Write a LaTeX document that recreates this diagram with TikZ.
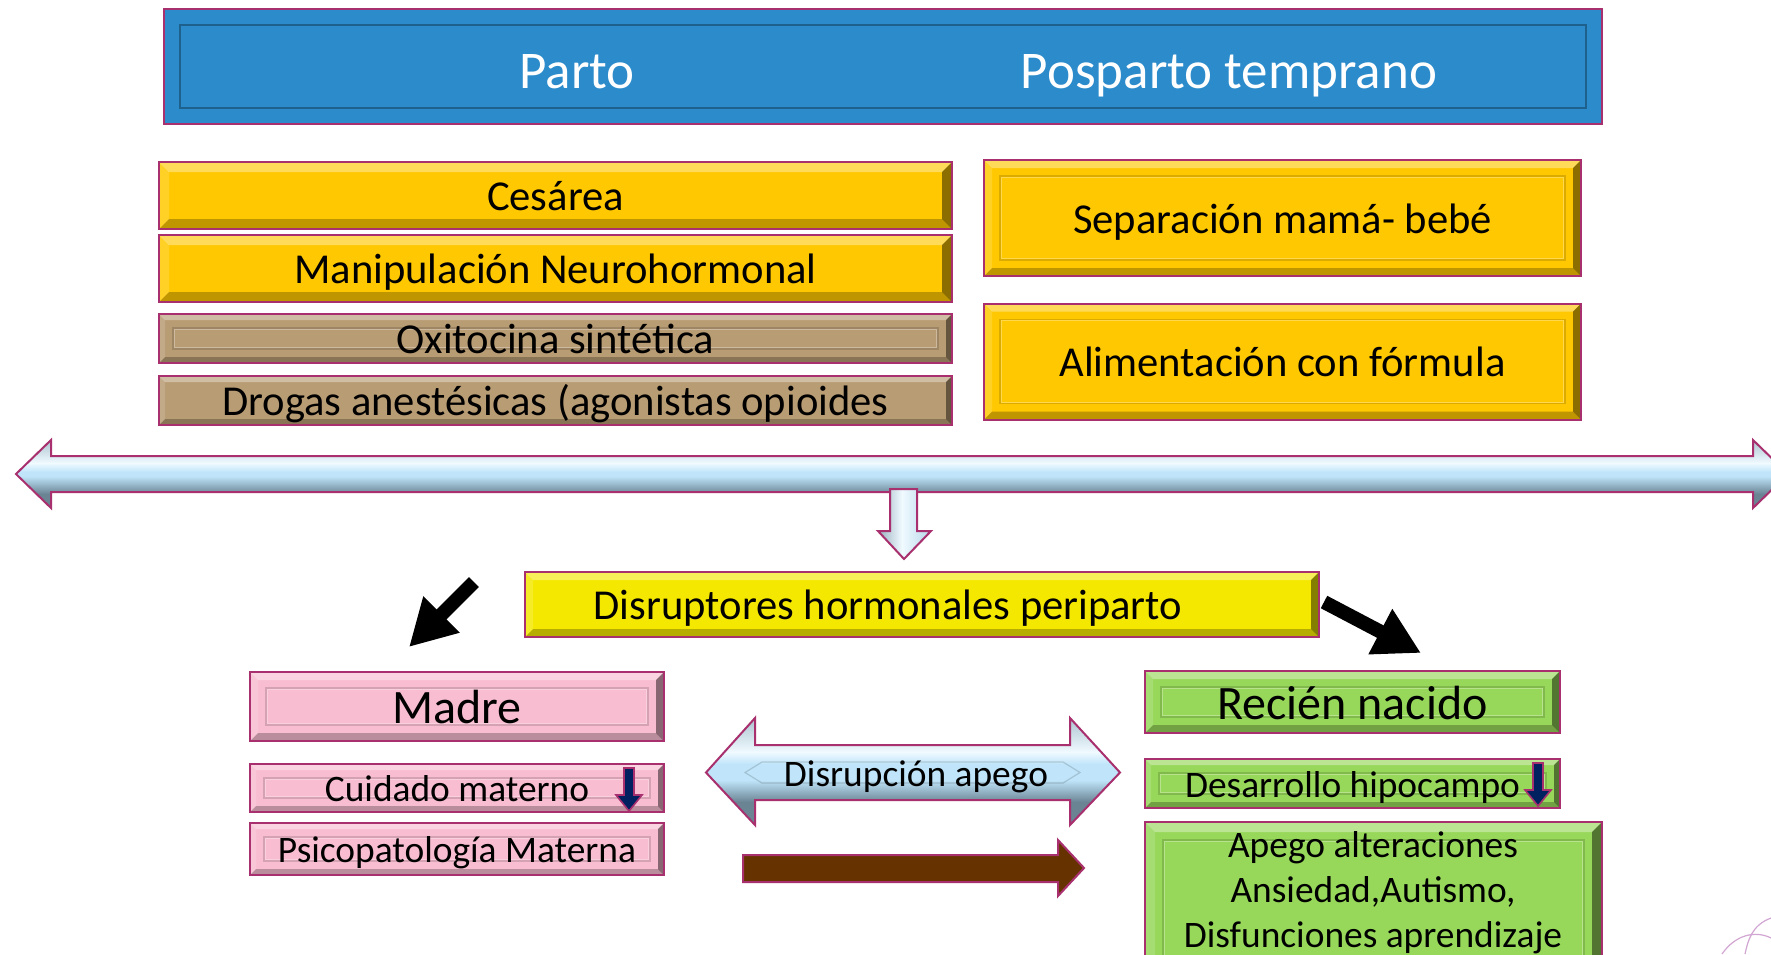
\documentclass[tikz,border=0pt]{standalone}
\usepackage{fontspec}
\setmainfont{Carlito}
\usetikzlibrary{arrows.meta}
\definecolor{bord}{HTML}{A8306E}
\definecolor{tblue}{HTML}{2B8BCB}
\definecolor{gold}{HTML}{FFC800}
\definecolor{lyel}{HTML}{FFF020}
\definecolor{dyel}{HTML}{F4E800}
\definecolor{byel}{HTML}{FFFF00}
\definecolor{tan}{HTML}{B89C74}
\definecolor{pinkb}{HTML}{F9BDD2}
\definecolor{greenb}{HTML}{97D85A}
\definecolor{navy}{HTML}{002060}
\definecolor{brownar}{HTML}{663300}
\definecolor{ltop}{HTML}{F0FAFF}
\definecolor{lmid}{HTML}{C0E5FA}
\definecolor{lbot}{HTML}{6A8494}
\definecolor{ledge}{HTML}{A6BECC}
\definecolor{lgr}{HTML}{92AABA}
\tikzset{
  box/.style={draw=bord, line width=1pt, inner sep=0pt, outer sep=0pt, rectangle},
  bev/.style={path picture={
    \coordinate (bvsw) at (path picture bounding box.south west);
    \coordinate (bvne) at (path picture bounding box.north east);
    \coordinate (bvnw) at (path picture bounding box.north west);
    \coordinate (bvse) at (path picture bounding box.south east);
    \fill[white,opacity=.35] (bvnw) -- (bvne) -- ([shift={(-#1,-#1)}]bvne) -- ([shift={(#1,-#1)}]bvnw) -- cycle;
    \fill[black,opacity=.25] (bvsw) -- (bvse) -- ([shift={(-#1,#1)}]bvse) -- ([shift={(#1,#1)}]bvsw) -- cycle;
    \fill[black,opacity=.45] (bvse) -- (bvne) -- ([shift={(-#1,-#1)}]bvne) -- ([shift={(-#1,#1)}]bvse) -- cycle;
    \fill[white,opacity=.15] (bvsw) -- (bvnw) -- ([shift={(#1,-#1)}]bvnw) -- ([shift={(#1,#1)}]bvsw) -- cycle;
  }},
  bevl/.style={path picture={
    \coordinate (bvsw) at (path picture bounding box.south west);
    \coordinate (bvne) at (path picture bounding box.north east);
    \coordinate (bvnw) at (path picture bounding box.north west);
    \coordinate (bvse) at (path picture bounding box.south east);
    \fill[white,opacity=.35] (bvnw) -- (bvne) -- ([shift={(-#1,-#1)}]bvne) -- ([shift={(#1,-#1)}]bvnw) -- cycle;
    \fill[black,opacity=.25] (bvsw) -- (bvse) -- ([shift={(-#1,#1)}]bvse) -- ([shift={(#1,#1)}]bvsw) -- cycle;
    \fill[black,opacity=.45] (bvse) -- (bvne) -- ([shift={(-#1,-#1)}]bvne) -- ([shift={(-#1,#1)}]bvse) -- cycle;
    \fill[white,opacity=.15] (bvsw) -- (bvnw) -- ([shift={(#1,-#1)}]bvnw) -- ([shift={(#1,#1)}]bvsw) -- cycle;
    \draw[black,opacity=.14,line width=.6pt] ([shift={(#1+4pt,#1+4pt)}]bvsw) rectangle ([shift={(-#1-4pt,-#1-4pt)}]bvne);
    \draw[white,opacity=.3,line width=.5pt] ([shift={(#1+4.6pt,#1+4.6pt)}]bvsw) rectangle ([shift={(-#1-4.6pt,-#1-4.6pt)}]bvne);
  }},
  flatl/.style={path picture={
    \coordinate (bvsw) at (path picture bounding box.south west);
    \coordinate (bvne) at (path picture bounding box.north east);
    \draw[black,opacity=.3,line width=.7pt] ([shift={(#1,#1)}]bvsw) rectangle ([shift={(-#1,-#1)}]bvne);
  }},
  yelsh/.style={top color=gold, middle color=lyel, bottom color=gold},
  fbig/.style={font=\fontsize{26.5}{31}\selectfont},
  fmid/.style={font=\fontsize{21.3}{25}\selectfont, text height=15.3pt, text depth=0pt},
  fhead/.style={font=\fontsize{24}{28}\selectfont, text height=17.3pt, text depth=0pt},
  fsml/.style={font=\fontsize{18.7}{22.5}\selectfont, text height=13.5pt, text depth=0pt},
  blk/.style={line width=7pt, -{Triangle[length=23pt,width=24pt]}},
  ndown/.pic={\draw[bord, fill=navy, line width=0.8pt] (-5,0) -- (5,0) -- (5,27) -- (13,27) -- (0,43) -- (-13,27) -- (-5,27) -- cycle;}
}
\begin{document}
\begin{tikzpicture}[x=0.5pt,y=-0.5pt]
\useasboundingbox (0,0) rectangle (1771,954);
\clip (0,0) rectangle (1771,954);
\fill[white] (0,0) rectangle (1771,954);

% top banner
\node[box, fill=tblue, flatl=8pt, minimum width=719pt, minimum height=57.5pt] (top) at (883,66.5) {};
\node[fbig, text=white, anchor=base] (parto) at (577,88) {Parto};
\node[fbig, text=white, anchor=base] (posp) at (1229,88) {Posparto temprano};

% Parto boxes
\node[box, yelsh, bev=5pt, minimum width=396.5pt, minimum height=33.5pt, fmid] (ces) at (555.5,195.5) {Cesárea};
\node[box, yelsh, bev=5pt, minimum width=396.5pt, minimum height=33.5pt, fmid] (manip) at (555.5,268.5) {Manipulación Neurohormonal};
\node[box, fill=tan, bevl=3pt, minimum width=396.5pt, minimum height=24.5pt, fmid] (oxi) at (555.5,338.5) {Oxitocina sintética};
\node[box, fill=tan, bev=3pt, minimum width=396.5pt, minimum height=24.5pt, fmid] (drog) at (555.5,400.5) {Drogas anestésicas (agonistas opioides};

% Posparto boxes
\node[box, fill=gold, bevl=4pt, minimum width=298.5pt, minimum height=58pt, fmid] (sep) at (1282.5,218) {Separación mamá- bebé};
\node[box, fill=gold, bevl=4pt, minimum width=298.5pt, minimum height=58pt, fmid] (alim) at (1282.5,361.5) {Alimentación con fórmula};

% big double arrow
\begin{scope}
  \clip (16,474) -- (51,440) -- (51,456) -- (1753,456) -- (1753,440) -- (1788,474) -- (1753,508) -- (1753,492) -- (51,492) -- (51,508) -- cycle;
  \fill[lmid] (0,430) rectangle (1800,520);
  \shade[top color=ledge, bottom color=ltop] (0,438) rectangle (1800,463);
  \shade[top color=ltop, bottom color=lmid] (0,463) rectangle (1800,472);
  \shade[top color=lmid, bottom color=lbot] (0,476) rectangle (1800,494);
  \fill[lbot] (0,494) rectangle (1800,512);
\end{scope}
\draw[bord, line width=1pt]
  (16,474) -- (51,440) -- (51,456) -- (1753,456) -- (1753,440) -- (1788,474) -- (1753,508) -- (1753,492) -- (51,492) -- (51,508) -- cycle;

% small down arrow
\begin{scope}
  \clip (890,489) -- (917,489) -- (917,531) -- (931,531) -- (904,559) -- (878,531) -- (890,531) -- cycle;
  \shade[left color=lgr, right color=ltop] (876,485) rectangle (902,562);
  \shade[left color=ltop, right color=lmid!70!lgr] (902,485) rectangle (933,562);
\end{scope}
\draw[bord, line width=1pt]
  (890,489) -- (917,489) -- (917,531) -- (931,531) -- (904,559) -- (878,531) -- (890,531) -- cycle;

% Disruptores
\node[box, top color=dyel, middle color=byel, bottom color=dyel, bev=4pt, minimum width=397pt, minimum height=32.5pt] (disr) at (922,604.5) {};
\node[fmid] (disrt) at (888,604.5) {Disruptores hormonales periparto};

% black arrows
\coordinate (la1) at (474,582);
\coordinate (la2) at (409,647);
\coordinate (ra1) at (1324,602);
\coordinate (ra2) at (1421,653);
\draw[blk] (la1) -- (la2);
\draw[blk] (ra1) -- (ra2);

% Madre column
\node[box, fill=pinkb, bevl=4pt, minimum width=207pt, minimum height=34.5pt, fhead] (madre) at (457,706.5) {Madre};
\node[box, fill=pinkb, bevl=3pt, minimum width=207pt, minimum height=24pt, fsml] (cuid) at (457,788) {Cuidado materno};
\node[box, fill=pinkb, bevl=3pt, minimum width=207pt, minimum height=26pt, fsml] (psico) at (457,849) {Psicopatología Materna};
\pic at (629,768) {ndown};

% Disrupcion apego arrow
\begin{scope}
  \clip (706,772.5) -- (755,718) -- (755,745) -- (1070,745) -- (1070,718) -- (1120,772.5) -- (1070,825) -- (1070,800) -- (755,800) -- (755,825) -- cycle;
  \fill[lmid] (700,710) rectangle (1125,830);
  \shade[top color=ledge, bottom color=ltop] (700,715) rectangle (1125,752);
  \shade[top color=ltop, bottom color=lmid] (700,752) rectangle (1125,764);
  \shade[top color=lmid, bottom color=lbot] (700,780) rectangle (1125,802);
  \fill[lbot] (700,802) rectangle (1125,830);
\end{scope}
\draw[bord, line width=1pt]
  (706,772.5) -- (755,718) -- (755,745) -- (1070,745) -- (1070,718) -- (1120,772.5) -- (1070,825) -- (1070,800) -- (755,800) -- (755,825) -- cycle;
\draw[black, opacity=.15, line width=.6pt] (745,772.5) -- (762,762) -- (1063,762) -- (1080,772.5) -- (1063,783) -- (762,783) -- cycle;
\node[fsml] (apegoar) at (916,772.5) {Disrupción apego};

% brown arrow
\draw[bord, line width=1pt, fill=brownar]
  (743,855) -- (1058,855) -- (1058,840) -- (1084,868) -- (1058,896) -- (1058,882) -- (743,882) -- cycle;

% Recien nacido column
\node[box, fill=greenb, bevl=4pt, minimum width=207.5pt, minimum height=31pt, fhead] (recien) at (1352.5,702) {Recién nacido};
\node[box, fill=greenb, bevl=3pt, minimum width=207.5pt, minimum height=24.5pt, fsml] (desa) at (1352.5,783.5) {Desarrollo hipocampo\hspace{14pt}};
\pic at (1538,763) {ndown};
\node[box, fill=greenb, bevl=5pt, minimum width=228.5pt, minimum height=80pt] (apego) at (1373.5,902) {};
\node[font=\fontsize{18.7}{22.5}\selectfont, align=center] (apegot) at (1373,893) {Apego alteraciones\\Ansiedad,Autismo,\\Disfunciones aprendizaje};

% decorative corner
\draw[violet!35, line width=.6pt] (1722,954) .. controls (1735,935) and (1755,930) .. (1771,938);
\draw[violet!35, line width=.6pt] (1745,954) .. controls (1748,940) and (1752,925) .. (1771,918);
\end{tikzpicture}
\end{document}
